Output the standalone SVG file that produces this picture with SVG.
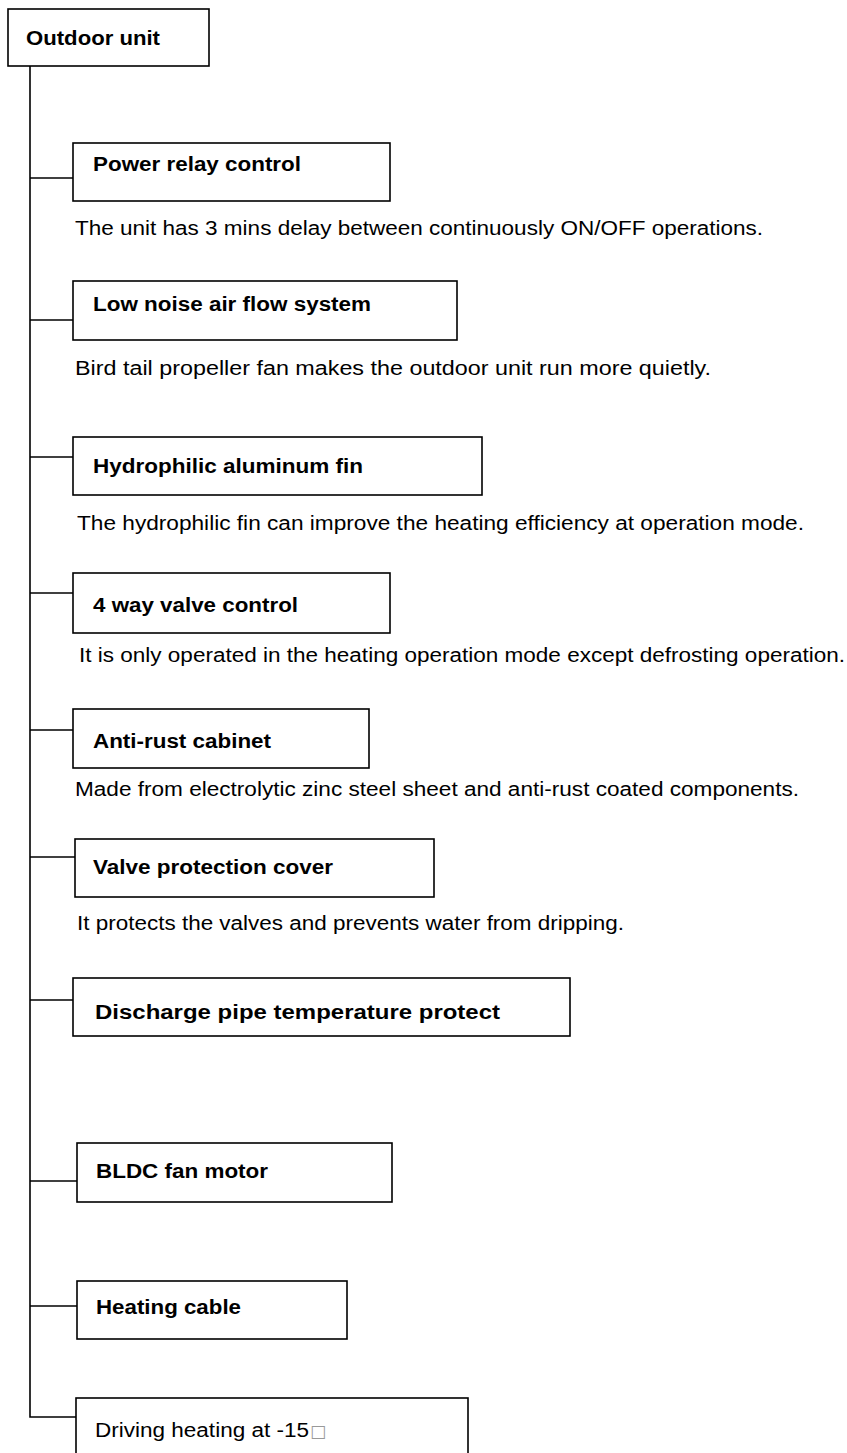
<svg xmlns="http://www.w3.org/2000/svg" width="847" height="1453" viewBox="0 0 847 1453">
<style>
.box{fill:#fff;stroke:#000;stroke-width:1.6}
.lbl{font-family:"Liberation Sans",Arial,sans-serif;font-size:20px;font-weight:bold;fill:#000}
.reg{font-family:"Liberation Sans",Arial,sans-serif;font-size:20px;fill:#000}
.desc{font-family:"Liberation Sans",Arial,sans-serif;font-size:20px;fill:#000}
.ln{fill:none;stroke:#000;stroke-width:1.6}
</style>
<rect width="847" height="1453" fill="#fff"/>
<g id="connectors">
<path class="ln" d="M30,66 V1417 H76"/>
<path class="ln" d="M30,178 H73"/>
<path class="ln" d="M30,320 H73"/>
<path class="ln" d="M30,457 H73"/>
<path class="ln" d="M30,593 H73"/>
<path class="ln" d="M30,730 H73"/>
<path class="ln" d="M30,857 H75"/>
<path class="ln" d="M30,1000 H73"/>
<path class="ln" d="M30,1181 H77"/>
<path class="ln" d="M30,1306 H77"/>
</g>
<g id="outdoor-unit">
<rect class="box" x="8" y="9" width="201" height="57"/>
<text class="lbl" x="26" y="45" textLength="134" lengthAdjust="spacingAndGlyphs">Outdoor unit</text>
</g>
<g id="power-relay">
<rect class="box" x="73" y="143" width="317" height="58"/>
<text class="lbl" x="93" y="171" textLength="208" lengthAdjust="spacingAndGlyphs">Power relay control</text>
<text class="desc" x="75" y="235" textLength="688" lengthAdjust="spacingAndGlyphs">The unit has 3 mins delay between continuously ON/OFF operations.</text>
</g>
<g id="low-noise">
<rect class="box" x="73" y="281" width="384" height="59"/>
<text class="lbl" x="93" y="311" textLength="278" lengthAdjust="spacingAndGlyphs">Low noise air flow system</text>
<text class="desc" x="75" y="375" textLength="636" lengthAdjust="spacingAndGlyphs">Bird tail propeller fan makes the outdoor unit run more quietly.</text>
</g>
<g id="hydrophilic">
<rect class="box" x="73" y="437" width="409" height="58"/>
<text class="lbl" x="93" y="473" textLength="270" lengthAdjust="spacingAndGlyphs">Hydrophilic aluminum fin</text>
<text class="desc" x="77" y="530" textLength="727" lengthAdjust="spacingAndGlyphs">The hydrophilic fin can improve the heating efficiency at operation mode.</text>
</g>
<g id="four-way">
<rect class="box" x="73" y="573" width="317" height="60"/>
<text class="lbl" x="93" y="612" textLength="205" lengthAdjust="spacingAndGlyphs">4 way valve control</text>
<text class="desc" x="79" y="662" textLength="766" lengthAdjust="spacingAndGlyphs">It is only operated in the heating operation mode except defrosting operation.</text>
</g>
<g id="anti-rust">
<rect class="box" x="73" y="709" width="296" height="59"/>
<text class="lbl" x="93" y="748" textLength="178" lengthAdjust="spacingAndGlyphs">Anti-rust cabinet</text>
<text class="desc" x="75" y="796" textLength="724" lengthAdjust="spacingAndGlyphs">Made from electrolytic zinc steel sheet and anti-rust coated components.</text>
</g>
<g id="valve-cover">
<rect class="box" x="75" y="839" width="359" height="58"/>
<text class="lbl" x="93" y="874" textLength="240" lengthAdjust="spacingAndGlyphs">Valve protection cover</text>
<text class="desc" x="77" y="930" textLength="547" lengthAdjust="spacingAndGlyphs">It protects the valves and prevents water from dripping.</text>
</g>
<g id="discharge">
<rect class="box" x="73" y="978" width="497" height="58"/>
<text class="lbl" x="95" y="1019" textLength="405" lengthAdjust="spacingAndGlyphs">Discharge pipe temperature protect</text>
</g>
<g id="bldc">
<rect class="box" x="77" y="1143" width="315" height="59"/>
<text class="lbl" x="96" y="1178" textLength="172" lengthAdjust="spacingAndGlyphs">BLDC fan motor</text>
</g>
<g id="heating-cable">
<rect class="box" x="77" y="1281" width="270" height="58"/>
<text class="lbl" x="96" y="1314" textLength="145" lengthAdjust="spacingAndGlyphs">Heating cable</text>
</g>
<g id="driving-heating">
<rect class="box" x="76" y="1398" width="392" height="70"/>
<text class="reg" x="95" y="1437"><tspan textLength="214" lengthAdjust="spacingAndGlyphs">Driving heating at -15</tspan><tspan x="310" font-family="DejaVu Sans" font-size="17" fill="#999">□</tspan></text>
</g>
</svg>
